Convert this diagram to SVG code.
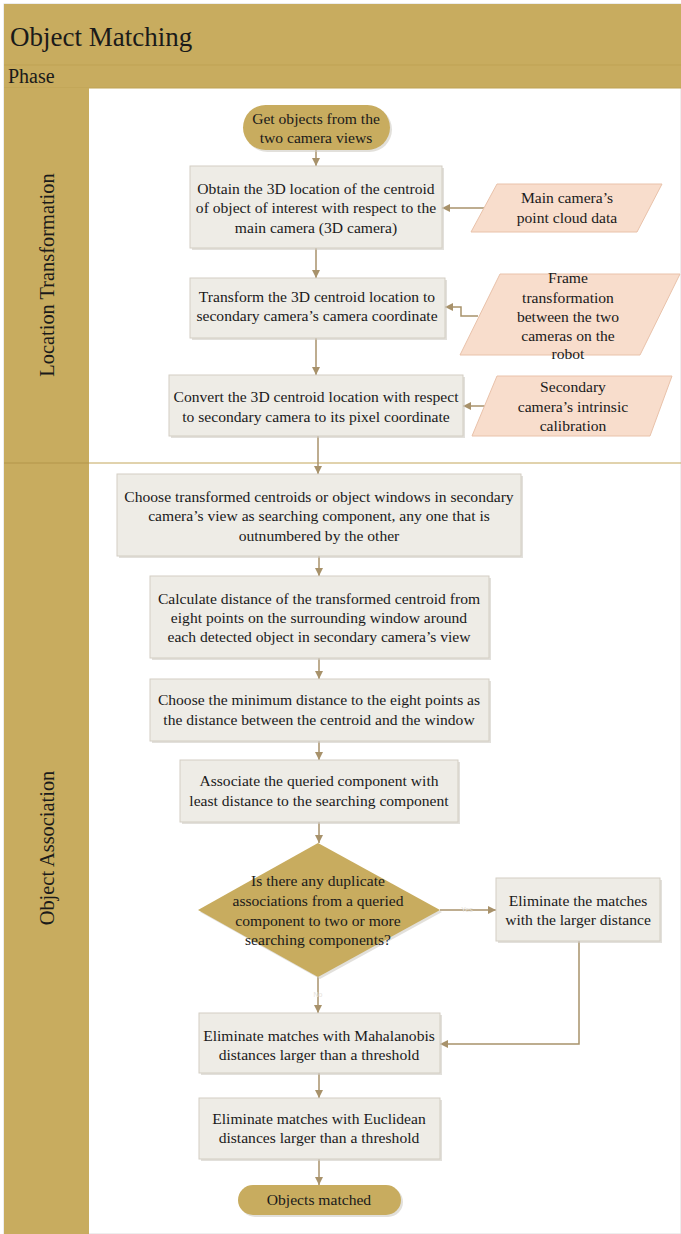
<svg xmlns="http://www.w3.org/2000/svg" width="681" height="1234" viewBox="0 0 681 1234">
<style>
.t{font-family:"Liberation Serif","Times New Roman",serif;font-size:15.6px;fill:#1a1a1a;text-anchor:middle}
.lane{font-family:"Liberation Serif","Times New Roman",serif;font-size:20.4px;fill:#1a1a1a;text-anchor:middle}
.box{fill:#eeece6;stroke:#d3cec3;stroke-width:1}
.sh{fill:#cfcbc3;opacity:0.6}
.gold{fill:#c8ac5f}
.para{fill:#f8ddcc;stroke:#e9c2aa;stroke-width:1}
.c{fill:none;stroke:#a8926b;stroke-width:1.5}
.lbl{font-family:"Liberation Sans",Arial,sans-serif;font-size:7px;fill:#e6e2da;text-anchor:middle}
</style>
<defs>
<marker id="ah" markerWidth="8" markerHeight="8" refX="8" refY="4" orient="auto" markerUnits="userSpaceOnUse">
<path d="M0,0 L8,4 L0,8 z" fill="#a8926b"/>
</marker>
</defs>
<rect x="0" y="0" width="681" height="1234" fill="#ffffff"/>
<g id="frame">
<rect x="4" y="4" width="677" height="1230" fill="#ffffff" stroke="#dcdcdc" stroke-width="1"/>
<rect x="4" y="4" width="677" height="61" class="gold"/>
<rect x="4" y="65" width="677" height="23" class="gold"/>
<line x1="4" y1="65" x2="681" y2="65" stroke="#bfa255" stroke-width="1"/>
<line x1="4" y1="88" x2="681" y2="88" stroke="#bfa255" stroke-width="1"/>
<rect x="4" y="88" width="85" height="1146" class="gold"/>
<line x1="4" y1="463" x2="681" y2="463" stroke="#c3a65a" stroke-width="1"/>
<line x1="4" y1="463" x2="89" y2="463" stroke="#b5984c" stroke-width="1"/>
<text x="10" y="46" style="font-family:'Liberation Serif','Times New Roman',serif;font-size:27px;fill:#1a1a1a">Object Matching</text>
<text x="8" y="83" style="font-family:'Liberation Serif','Times New Roman',serif;font-size:20px;fill:#1a1a1a">Phase</text>
</g>
<g id="lane-location">
<text class="lane" transform="translate(54,275) rotate(-90)">Location Transformation</text>
</g>
<g id="lane-association">
<text class="lane" transform="translate(54,848) rotate(-90)">Object Association</text>
</g>
<g id="connectors">
<path class="c" d="M316,150 L316,166" marker-end="url(#ah)"/>
<path class="c" d="M484,208 L442,208" marker-end="url(#ah)"/>
<path class="c" d="M316,248 L316,278" marker-end="url(#ah)"/>
<path class="c" d="M478,316 L461,316 L461,307 L445,307" marker-end="url(#ah)"/>
<path class="c" d="M316,338 L316,375" marker-end="url(#ah)"/>
<path class="c" d="M486,406 L463,406" marker-end="url(#ah)"/>
<path class="c" d="M318,436 L318,474" marker-end="url(#ah)"/>
<path class="c" d="M319,556 L319,576" marker-end="url(#ah)"/>
<path class="c" d="M319,658 L319,679" marker-end="url(#ah)"/>
<path class="c" d="M319,741 L319,760" marker-end="url(#ah)"/>
<path class="c" d="M319,822 L319,843" marker-end="url(#ah)"/>
<path class="c" d="M440,910 L496,910" marker-end="url(#ah)"/>
<text class="lbl" x="467" y="912">Yes</text>
<path class="c" d="M318,977 L318,1013" marker-end="url(#ah)"/>
<text class="lbl" x="318" y="997">No</text>
<path class="c" d="M579,941 L579,1044 L440,1044" marker-end="url(#ah)"/>
<path class="c" d="M319,1073 L319,1098" marker-end="url(#ah)"/>
<path class="c" d="M319,1159 L319,1185" marker-end="url(#ah)"/>
</g>
<g id="start">
<rect x="245" y="107" width="147" height="45" rx="22.5" class="sh"/>
<rect x="243" y="105" width="147" height="45" rx="22.5" class="gold"/>
<text class="t" x="316" y="124">Get objects from the</text>
<text class="t" x="316" y="143">two camera views</text>
</g>
<g id="obtain">
<rect x="192" y="168" width="252" height="82" class="sh"/>
<rect x="190" y="166" width="252" height="82" class="box"/>
<text class="t" x="316" y="194">Obtain the 3D location of the centroid</text>
<text class="t" x="316" y="213">of object of interest with respect to the</text>
<text class="t" x="316" y="233">main camera (3D camera)</text>
</g>
<g id="pointcloud">
<polygon points="497,184 662,184 637,232 471,232" class="para"/>
<text class="t" x="567" y="203">Main camera’s</text>
<text class="t" x="567" y="223">point cloud data</text>
</g>
<g id="transform">
<rect x="192" y="280" width="255" height="60" class="sh"/>
<rect x="190" y="278" width="255" height="60" class="box"/>
<text class="t" x="317" y="302">Transform the 3D centroid location to</text>
<text class="t" x="317" y="321">secondary camera’s camera coordinate</text>
</g>
<g id="frametransform">
<polygon points="500,274 680,274 640,355 460,355" class="para"/>
<text class="t" x="568" y="283">Frame</text>
<text class="t" x="568" y="303">transformation</text>
<text class="t" x="568" y="322">between the two</text>
<text class="t" x="568" y="341">cameras on the</text>
<text class="t" x="568" y="359">robot</text>
</g>
<g id="convert">
<rect x="171" y="377" width="294" height="61" class="sh"/>
<rect x="169" y="375" width="294" height="61" class="box"/>
<text class="t" x="316" y="402">Convert the 3D centroid location with respect</text>
<text class="t" x="316" y="422">to secondary camera to its pixel coordinate</text>
</g>
<g id="intrinsic">
<polygon points="497,376 672,376 650,436 472,436" class="para"/>
<text class="t" x="573" y="392">Secondary</text>
<text class="t" x="573" y="412">camera’s intrinsic</text>
<text class="t" x="573" y="431">calibration</text>
</g>
<g id="choose">
<rect x="119" y="476" width="404" height="82" class="sh"/>
<rect x="117" y="474" width="404" height="82" class="box"/>
<text class="t" x="319" y="502">Choose transformed centroids or object windows in secondary</text>
<text class="t" x="319" y="521">camera’s view as searching component, any one that is</text>
<text class="t" x="319" y="541">outnumbered by the other</text>
</g>
<g id="calculate">
<rect x="152" y="578" width="339" height="82" class="sh"/>
<rect x="150" y="576" width="339" height="82" class="box"/>
<text class="t" x="319" y="604">Calculate distance of the transformed centroid from</text>
<text class="t" x="319" y="623">eight points on the surrounding window around</text>
<text class="t" x="319" y="642">each detected object in secondary camera’s view</text>
</g>
<g id="minimum">
<rect x="152" y="681" width="339" height="62" class="sh"/>
<rect x="150" y="679" width="339" height="62" class="box"/>
<text class="t" x="319" y="705">Choose the minimum distance to the eight points as</text>
<text class="t" x="319" y="725">the distance between the centroid and the window</text>
</g>
<g id="associate">
<rect x="182" y="762" width="278" height="62" class="sh"/>
<rect x="180" y="760" width="278" height="62" class="box"/>
<text class="t" x="319" y="786">Associate the queried component with</text>
<text class="t" x="319" y="806">least distance to the searching component</text>
</g>
<g id="decision">
<polygon points="320,845 442,912 320,979 200,912" class="sh"/>
<polygon points="318,843 440,910 318,977 198,910" class="gold"/>
<text class="t" x="318" y="886">Is there any duplicate</text>
<text class="t" x="318" y="906">associations from a queried</text>
<text class="t" x="318" y="926">component to two or more</text>
<text class="t" x="318" y="945">searching components?</text>
</g>
<g id="eliminate-larger">
<rect x="498" y="880" width="164" height="63" class="sh"/>
<rect x="496" y="878" width="164" height="63" class="box"/>
<text class="t" x="578" y="906">Eliminate the matches</text>
<text class="t" x="578" y="925">with the larger distance</text>
</g>
<g id="mahalanobis">
<rect x="201" y="1015" width="241" height="60" class="sh"/>
<rect x="199" y="1013" width="241" height="60" class="box"/>
<text class="t" x="319" y="1041">Eliminate matches with Mahalanobis</text>
<text class="t" x="319" y="1060">distances larger than a threshold</text>
</g>
<g id="euclidean">
<rect x="201" y="1100" width="241" height="61" class="sh"/>
<rect x="199" y="1098" width="241" height="61" class="box"/>
<text class="t" x="319" y="1124">Eliminate matches with Euclidean</text>
<text class="t" x="319" y="1143">distances larger than a threshold</text>
</g>
<g id="end">
<rect x="240" y="1187" width="163" height="30" rx="15" class="sh"/>
<rect x="238" y="1185" width="163" height="30" rx="15" class="gold"/>
<text class="t" x="319" y="1205">Objects matched</text>
</g>
</svg>
